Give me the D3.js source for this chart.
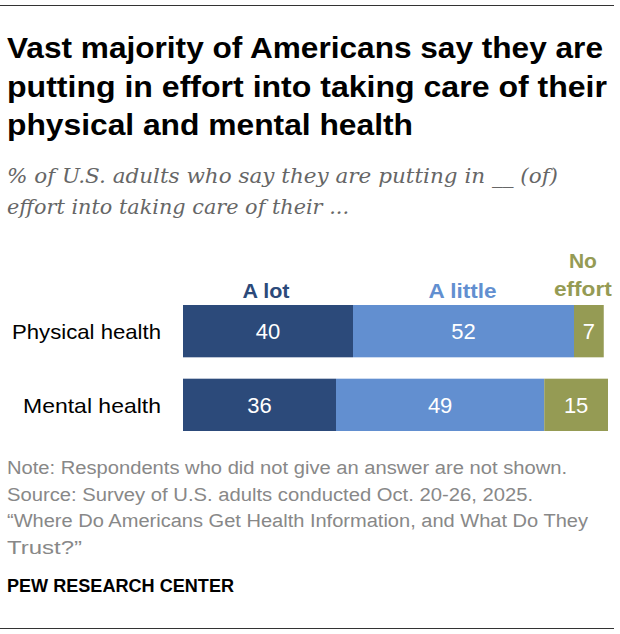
<!DOCTYPE html>
<html><head><meta charset="utf-8">
<script src="https://cdn.jsdelivr.net/npm/d3@7"></script>
<style>
body{margin:0;background:#fff;}
svg{display:block;}
</style></head>
<body>
<svg id="chart" width="620" height="634"></svg>
<script>
const categories = ["Physical health", "Mental health"];
const seriesNames = ["A lot", "A little", "No effort"];
const aLot = [40, 36];
const aLittle = [52, 49];
const noEffort = [7, 15];
const titleLines = ["Vast majority of Americans say they are", "putting in effort into taking care of their", "physical and mental health"];
const subtitleLines = ["% of U.S. adults who say they are putting in __ (of)", "effort into taking care of their ..."];
const noteLines = ["Note: Respondents who did not give an answer are not shown.", "Source: Survey of U.S. adults conducted Oct. 20-26, 2025.", "\u201cWhere Do Americans Get Health Information, and What Do They", "Trust?\u201d"];
const sourceLabel = "PEW RESEARCH CENTER";

// layout-only constants (rendered widths of text lines)
const titleW = [596, 600, 406];
const subW = [551, 342];
const noteW = [560, 526, 581, 75];
const catW = [149, 138];

const colors = ["#2c4a7a", "#628fd0", "#959b54"];
const svg = d3.select("#chart");
const sans = "'Liberation Sans',Arial,sans-serif";
const fit = (sel, w) => sel.attr("textLength", w).attr("lengthAdjust", "spacingAndGlyphs");

svg.append("line").attr("x1",0).attr("x2",614).attr("y1",5.5).attr("y2",5.5).attr("stroke","#333").attr("stroke-width",1.2);
svg.append("line").attr("x1",0).attr("x2",614).attr("y1",628.5).attr("y2",628.5).attr("stroke","#333").attr("stroke-width",1.2);

titleLines.forEach((t,i)=>{
  svg.append("text").attr("x",7).attr("y",58+i*38.5).text(t)
    .attr("font-family",sans).attr("font-weight","bold").attr("font-size",29).attr("fill","#000")
    .call(fit, titleW[i]);
});
subtitleLines.forEach((t,i)=>{
  svg.append("text").attr("x",7).attr("y",183+i*31).text(t)
    .attr("font-family","'DejaVu Serif','Liberation Serif',serif").attr("font-style","italic")
    .attr("font-size",20).attr("fill","#666").call(fit, subW[i]);
});

const data = categories.map((c,i)=>({cat:c, vals:[aLot[i], aLittle[i], noEffort[i]]}));
const x = d3.scaleLinear().domain([0,100]).range([183, 608]);
const y = d3.scaleBand().domain(categories).range([305, 431]).paddingInner(0.29).paddingOuter(0);

const rows = svg.append("g").selectAll("g").data(data).join("g");
rows.each(function(d, i){
  const g = d3.select(this);
  let cum = 0;
  d.vals.forEach((v,j)=>{
    const x0 = x(cum), x1 = x(cum+v);
    g.append("rect").attr("x",x0).attr("y",y(d.cat)).attr("width",x1-x0).attr("height",y.bandwidth()).attr("fill",colors[j]);
    g.append("text").attr("x",(x0+x1)/2).attr("y",y(d.cat)+y.bandwidth()/2+8).attr("text-anchor","middle")
      .attr("font-family",sans).attr("font-size",22).attr("fill","#fff").text(v);
    cum += v;
  });
  g.append("text").attr("x",161).attr("y",y(d.cat)+y.bandwidth()/2+8).attr("text-anchor","end")
    .attr("font-family",sans).attr("font-size",21).attr("fill","#000").text(d.cat).call(fit, catW[i]);
});

// series labels above first bar
const first = data[0].vals;
let c0 = 0;
const centers = first.map(v=>{const m = x(c0 + v/2); c0 += v; return m;});
const lbl = (xp, yp, t, col) => svg.append("text").attr("x",xp).attr("y",yp).attr("text-anchor","middle")
  .attr("font-family",sans).attr("font-weight","bold").attr("font-size",21).attr("fill",col).text(t);
lbl(centers[0]-2, 298, seriesNames[0], colors[0]).call(fit, 47);
lbl(centers[1]-1, 298, seriesNames[1], colors[1]).call(fit, 68);
const ne = seriesNames[2].split(" ");
lbl(centers[2]-6, 268, ne[0], colors[2]).call(fit, 28);
lbl(centers[2]-6, 296, ne[1], colors[2]).call(fit, 58);

noteLines.forEach((t,i)=>{
  svg.append("text").attr("x",7).attr("y",474+i*26.7).text(t)
    .attr("font-family",sans).attr("font-size",18).attr("fill","#888").call(fit, noteW[i]);
});
svg.append("text").attr("x",7).attr("y",592).text(sourceLabel)
  .attr("font-family",sans).attr("font-weight","bold").attr("font-size",18).attr("fill","#000").call(fit, 227);
</script>
</body></html>
